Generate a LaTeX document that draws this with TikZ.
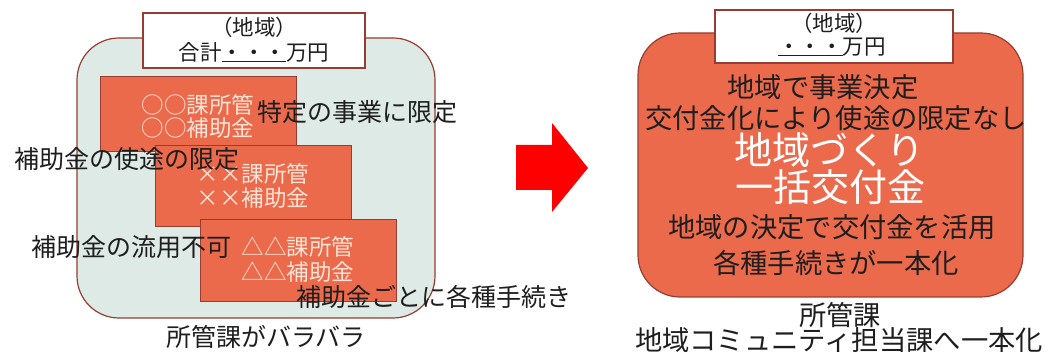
\documentclass[tikz,border=0pt]{standalone}
\usepackage{fontspec}
\setmainfont{Noto Sans CJK JP}
\definecolor{coral}{RGB}{236,106,76}
\definecolor{edge}{RGB}{150,60,48}
\definecolor{mint}{RGB}{222,234,230}
\definecolor{pinkw}{RGB}{252,228,214}
\definecolor{ink}{RGB}{30,30,30}
\begin{document}
\begin{tikzpicture}[x=1pt,y=-1pt,
  bigbox/.style={draw=edge,line width=1.2pt,rounded corners=42pt},
  titlebox/.style={draw=edge,line width=1.2pt,fill=white},
  subbox/.style={draw=edge,line width=1pt,fill=coral},
  lbl/.style={inner sep=0pt,text=ink,font=\fontsize{25}{28}\selectfont},
  rlbl/.style={inner sep=0pt,text=ink,font=\fontsize{27.3}{30}\selectfont},
  big/.style={inner sep=0pt,text=white,font=\fontsize{38}{40}\selectfont},
  boxtxt/.style={inner sep=0pt,text=pinkw,align=center,font=\fontsize{22.5}{24}\selectfont},
  ttl/.style={inner sep=0pt,text=ink,font=\fontsize{21.5}{23}\selectfont}]
\useasboundingbox (0,0) rectangle (1049,352);
% ---------- left ----------
\path[bigbox,fill=mint] (77,38) rectangle (435,318);
\node[titlebox,minimum width=222pt,minimum height=55pt,inner sep=0pt] (ltitle) at (254,40.5) {};
\node[ttl] (lt1) at (254,27) {（地域）};
\node[ttl] (lt2) at (254,52) {合計\underline{・・・}万円};
\node[subbox,minimum width=196pt,minimum height=75pt,inner sep=0pt] (b1) at (198,114.5) {};
\node[boxtxt] (b1a) at (198,105) {○○課所管};
\node[boxtxt] (b1b) at (198,128) {○○補助金};
\node[lbl] (l1) at (357,112) {特定の事業に限定};
\node[subbox,minimum width=196pt,minimum height=81pt,inner sep=0pt] (b2) at (253,186.5) {};
\node[boxtxt] (b2a) at (253,174) {××課所管};
\node[boxtxt] (b2b) at (253,198) {××補助金};
\node[lbl] (l2) at (127,159) {補助金の使途の限定};
\node[subbox,minimum width=196pt,minimum height=82pt,inner sep=0pt] (b3) at (298,261) {};
\node[boxtxt] (b3a) at (298,247) {△△課所管};
\node[boxtxt] (b3b) at (298,272) {△△補助金};
\node[lbl] (l3) at (131,247) {補助金の流用不可};
\node[lbl] (l4) at (434,297) {補助金ごとに各種手続き};
\node[lbl] (l5) at (266,337) {所管課がバラバラ};
% ---------- arrow ----------
\fill[red] (516,145) -- (552,145) -- (552,123) -- (588,168) -- (552,212) -- (552,190) -- (516,190) -- cycle;
% ---------- right ----------
\path[bigbox,fill=coral] (638,33) rectangle (1023,297);
\node[titlebox,minimum width=238pt,minimum height=53pt,inner sep=0pt] (rtitle) at (834,36.5) {};
\node[ttl] (rt1) at (834,23) {（地域）};
\node[ttl] (rt2) at (832,47) {\underline{・・・}万円};
\node[rlbl] (r1) at (823,87) {地域で事業決定};
\node[rlbl] (r2) at (836,118) {交付金化により使途の限定なし};
\node[big] (r3) at (829,150) {地域づくり};
\node[big] (r4) at (830,187) {一括交付金};
\node[rlbl] (r5) at (832,227) {地域の決定で交付金を活用};
\node[rlbl] (r6) at (836,263) {各種手続きが一本化};
\node[rlbl] (r7) at (840,315) {所管課};
\node[rlbl] (r8) at (839,340) {地域コミュニティ担当課へ一本化};
\end{tikzpicture}
\end{document}
